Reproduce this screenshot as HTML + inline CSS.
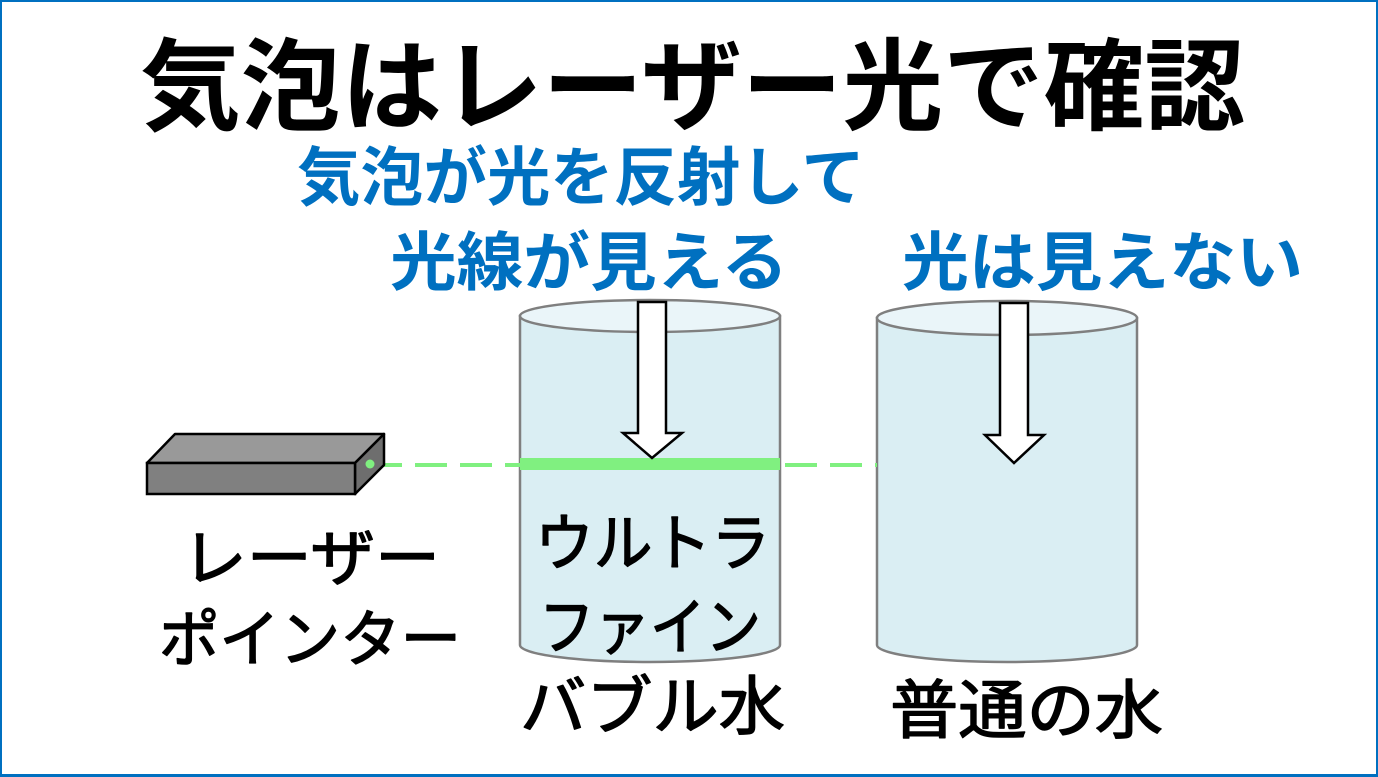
<!DOCTYPE html>
<html><head><meta charset="utf-8">
<style>
html,body{margin:0;padding:0;background:#fff;}
.wrap{position:relative;width:1378px;height:777px;overflow:hidden;background:#fff;}
.frame{position:absolute;left:0;top:0;width:1378px;height:777px;box-sizing:border-box;border-left:2px solid #0070C0;border-top:2px solid #0070C0;border-right:2px solid #0070C0;border-bottom:3px solid #0070C0;}
svg{position:absolute;left:0;top:0;}
text{font-family:"Liberation Sans","Noto Sans CJK JP",sans-serif;font-weight:bold;}
text.lbl{font-weight:normal;stroke:#000;stroke-width:1.4px;stroke-linejoin:round;}
</style></head>
<body><div class="wrap">
<svg width="1378" height="777" viewBox="0 0 1378 777" xmlns="http://www.w3.org/2000/svg">
  <!-- Title -->
  <text x="140" y="122" font-size="100" fill="#000" textLength="1105" lengthAdjust="spacingAndGlyphs">気泡はレーザー光で確認</text>
  <!-- Blue captions -->
  <text x="297" y="200" font-size="64" fill="#0070C0" textLength="568" lengthAdjust="spacingAndGlyphs">気泡が光を反射して</text>
  <text x="390" y="285" font-size="64" fill="#0070C0" textLength="398" lengthAdjust="spacingAndGlyphs">光線が見える</text>
  <text x="902" y="285" font-size="64" fill="#0070C0" textLength="401" lengthAdjust="spacingAndGlyphs">光は見えない</text>

  <!-- Cylinder 1 -->
  <path d="M520,316 L520,645 A130,17 0 0 0 780,645 L780,316 Z" fill="#DAEEF3" stroke="#7F7F7F" stroke-width="2.5"/>
  <ellipse cx="650" cy="316" rx="130" ry="16" fill="#EAF5F9" stroke="#7F7F7F" stroke-width="2.5"/>
  <!-- Cylinder 2 -->
  <path d="M877,318 L877,645 A130,17 0 0 0 1137,645 L1137,318 Z" fill="#DAEEF3" stroke="#7F7F7F" stroke-width="2.5"/>
  <ellipse cx="1007" cy="318" rx="130" ry="17" fill="#EAF5F9" stroke="#7F7F7F" stroke-width="2.5"/>

  <!-- Laser beam -->
  <line x1="370" y1="465" x2="520" y2="465" stroke="#80F080" stroke-width="4" stroke-dasharray="32 13"/>
  <line x1="785" y1="465" x2="877" y2="465" stroke="#80F080" stroke-width="4" stroke-dasharray="32 13"/>
  <rect x="520" y="458" width="260" height="12" fill="#80F080"/>

  <!-- Arrows -->
  <polygon points="638,302 666,302 666,433 682,433 652,458 623,433 638,433" fill="#fff" stroke="#000" stroke-width="2.5" stroke-linejoin="miter"/>
  <polygon points="1000,303 1028,303 1028,435 1044,435 1014,463 985,435 1000,435" fill="#fff" stroke="#000" stroke-width="2.5" stroke-linejoin="miter"/>

  <!-- Laser pointer box -->
  <polygon points="147,463 175,434 384,434 355,463" fill="#999999" stroke="#000" stroke-width="2.5" stroke-linejoin="round"/>
  <polygon points="355,463 384,434 384,465 355,494" fill="#6E6E6E" stroke="#000" stroke-width="2.5" stroke-linejoin="round"/>
  <rect x="147" y="463" width="208" height="31" fill="#808080" stroke="#000" stroke-width="2.5"/>
  <circle cx="370" cy="464" r="4.5" fill="#80F080"/>

  <!-- Labels -->
  <text class="lbl" x="182" y="580" font-size="62" fill="#000" textLength="258" lengthAdjust="spacingAndGlyphs">レーザー</text>
  <text class="lbl" x="159" y="661" font-size="62" fill="#000" textLength="302" lengthAdjust="spacingAndGlyphs">ポインター</text>
  <text class="lbl" x="535" y="565" font-size="62" fill="#000" textLength="235" lengthAdjust="spacingAndGlyphs">ウルトラ</text>
  <text class="lbl" x="539" y="649" font-size="62" fill="#000" textLength="222" lengthAdjust="spacingAndGlyphs">ファイン</text>
  <text class="lbl" x="520" y="729" font-size="64" fill="#000" textLength="265" lengthAdjust="spacingAndGlyphs">バブル水</text>
  <text class="lbl" x="890" y="733" font-size="64" fill="#000" textLength="273" lengthAdjust="spacingAndGlyphs">普通の水</text>
</svg>
<div class="frame"></div>
</div></body></html>
